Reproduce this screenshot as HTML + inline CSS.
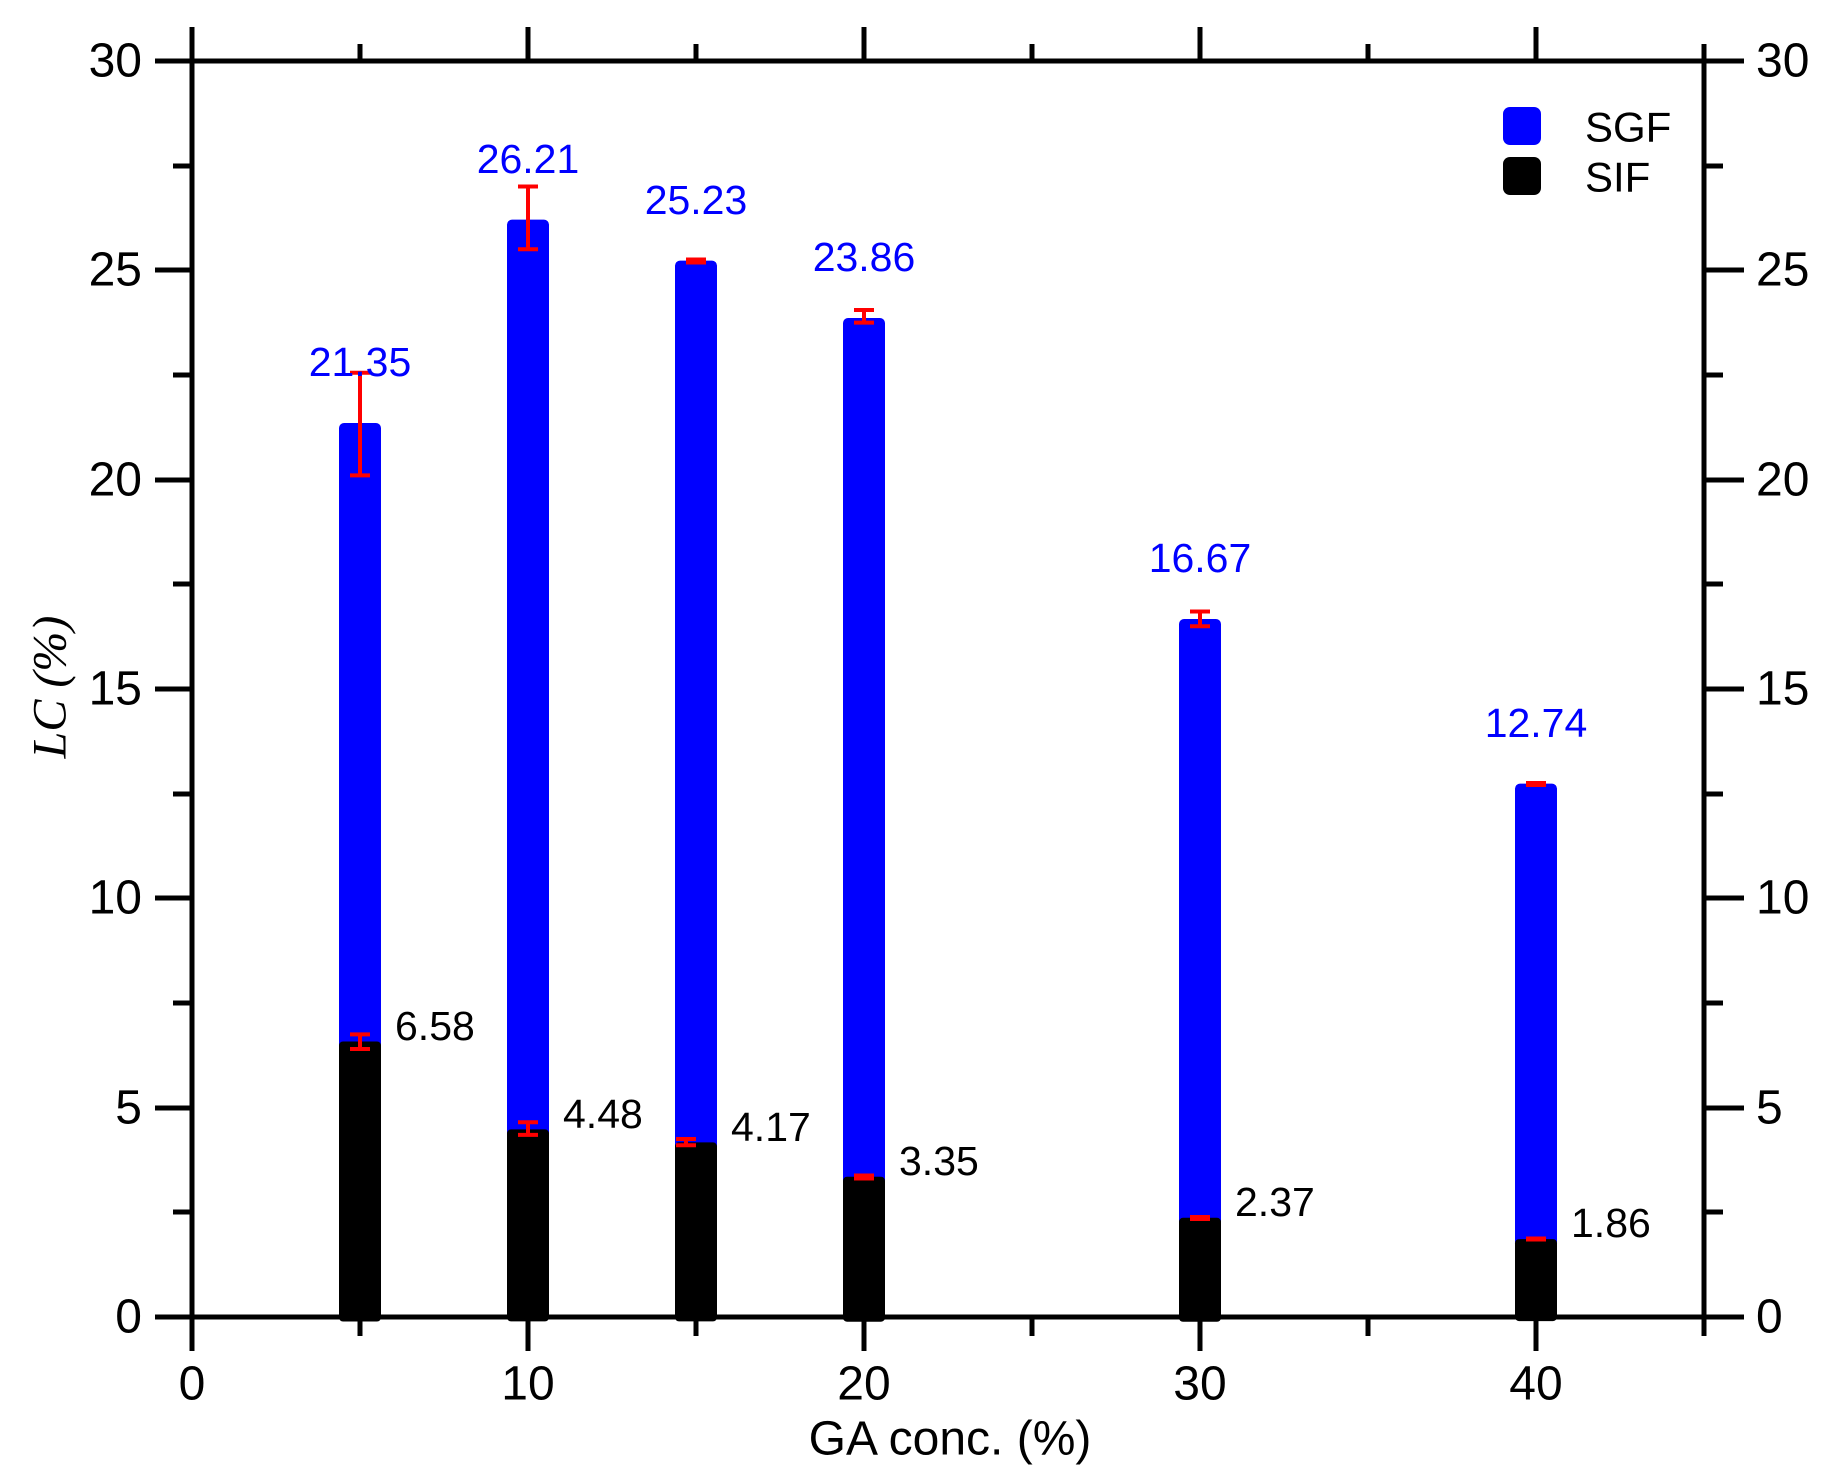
<!DOCTYPE html>
<html><head><meta charset="utf-8"><style>html,body{margin:0;padding:0;background:#fff}svg{display:block}</style></head>
<body>
<svg width="1827" height="1484" viewBox="0 0 1827 1484" xmlns="http://www.w3.org/2000/svg" font-family="Liberation Sans, sans-serif">
<rect width="1827" height="1484" fill="#fff"/>
<g>
<rect x="339" y="423" width="42" height="640" rx="5" fill="#0000ff"/>
<rect x="507" y="219.6" width="42" height="930" rx="5" fill="#0000ff"/>
<rect x="675" y="260.6" width="42" height="900" rx="5" fill="#0000ff"/>
<rect x="843" y="318" width="42" height="880" rx="5" fill="#0000ff"/>
<rect x="1179" y="619" width="42" height="620" rx="5" fill="#0000ff"/>
<rect x="1515" y="783.6" width="42" height="470" rx="5" fill="#0000ff"/>
<rect x="339" y="1041.5" width="42" height="280" rx="4" fill="#000"/>
<rect x="507" y="1129.4" width="42" height="192" rx="4" fill="#000"/>
<rect x="675" y="1142.4" width="42" height="179" rx="4" fill="#000"/>
<rect x="843" y="1176.7" width="42" height="145" rx="4" fill="#000"/>
<rect x="1179" y="1217.8" width="42" height="104" rx="4" fill="#000"/>
<rect x="1515" y="1239.1" width="42" height="82" rx="4" fill="#000"/>
</g>
<g stroke="#ff0000" stroke-width="4" fill="none">
<path d="M360 372.8V475.4M350 372.8H370M350 475.4H370"/>
<path d="M528 186.5V249.3M518 186.5H538M518 249.3H538"/>
<path d="M686 261H706" stroke-width="7"/>
<path d="M864 310V322.6M854 310H874M854 322.6H874"/>
<path d="M1200 611.5V626.2M1190 611.5H1210M1190 626.2H1210"/>
<path d="M1526 784H1546" stroke-width="6"/>
<path d="M360 1034.4V1049M350 1034.4H370M350 1049H370"/>
<path d="M528 1122.3V1134.9M518 1122.3H538M518 1134.9H538"/>
<path d="M686 1139V1145.3M676 1139H696M676 1145.3H696"/>
<path d="M854 1177H874" stroke-width="7"/>
<path d="M1190 1218H1210" stroke-width="6"/>
<path d="M1526 1239H1546" stroke-width="5"/>
</g>
<g stroke="#000" stroke-width="5" fill="none">
<rect x="192" y="61" width="1512" height="1256"/>
<path d="M155 61H192M155 270H192M155 480H192M155 689H192M155 898H192M155 1108H192M155 1317H192"/>
<path d="M173 166H192M173 375H192M173 584H192M173 794H192M173 1003H192M173 1212H192"/>
<path d="M1704 61H1744M1704 270H1744M1704 480H1744M1704 689H1744M1704 898H1744M1704 1108H1744M1704 1317H1744"/>
<path d="M1704 166H1723M1704 375H1723M1704 584H1723M1704 794H1723M1704 1003H1723M1704 1212H1723"/>
<path d="M192 1317V1351M528 1317V1351M864 1317V1351M1200 1317V1351M1536 1317V1351"/>
<path d="M360 1317V1336M696 1317V1336M1032 1317V1336M1368 1317V1336M1704 1317V1336"/>
<path d="M192 61V27M528 61V27M864 61V27M1200 61V27M1536 61V27"/>
<path d="M360 61V44M696 61V44M1032 61V44M1368 61V44M1704 61V44"/>
</g>
<g font-size="48" fill="#000" text-anchor="end" dominant-baseline="central">
<text x="142" y="61">30</text><text x="142" y="270">25</text><text x="142" y="480">20</text>
<text x="142" y="689">15</text><text x="142" y="898">10</text><text x="142" y="1108">5</text><text x="142" y="1317">0</text>
</g>
<g font-size="48" fill="#000" text-anchor="start" dominant-baseline="central">
<text x="1756" y="61">30</text><text x="1756" y="270">25</text><text x="1756" y="480">20</text>
<text x="1756" y="689">15</text><text x="1756" y="898">10</text><text x="1756" y="1108">5</text><text x="1756" y="1317">0</text>
</g>
<g font-size="48" fill="#000" text-anchor="middle" dominant-baseline="central">
<text x="192" y="1384">0</text><text x="528" y="1384">10</text><text x="864" y="1384">20</text>
<text x="1200" y="1384">30</text><text x="1536" y="1384">40</text>
<text x="950" y="1439">GA conc. (%)</text>
</g>
<text transform="translate(50 687) rotate(-90)" font-size="48" font-style="italic" text-anchor="middle" dominant-baseline="central" font-family="Liberation Serif, serif">LC (%)</text>
<g font-size="41" fill="#0000ff" text-anchor="middle" dominant-baseline="central">
<text x="360" y="362">21.35</text><text x="528" y="159">26.21</text><text x="696" y="200">25.23</text>
<text x="864" y="257">23.86</text><text x="1200" y="558">16.67</text><text x="1536" y="723">12.74</text>
</g>
<g font-size="41" fill="#000" dominant-baseline="central">
<text x="395" y="1026">6.58</text><text x="563" y="1114">4.48</text><text x="731" y="1127">4.17</text>
<text x="899" y="1161">3.35</text><text x="1235" y="1202">2.37</text><text x="1571" y="1223">1.86</text>
</g>
<rect x="1503" y="107" width="38" height="38" rx="7" fill="#0000ff"/>
<rect x="1503" y="157" width="38" height="38" rx="7" fill="#000"/>
<g font-size="42" fill="#000" dominant-baseline="central">
<text x="1585" y="127">SGF</text><text x="1585" y="177">SIF</text>
</g>
</svg>
</body></html>
